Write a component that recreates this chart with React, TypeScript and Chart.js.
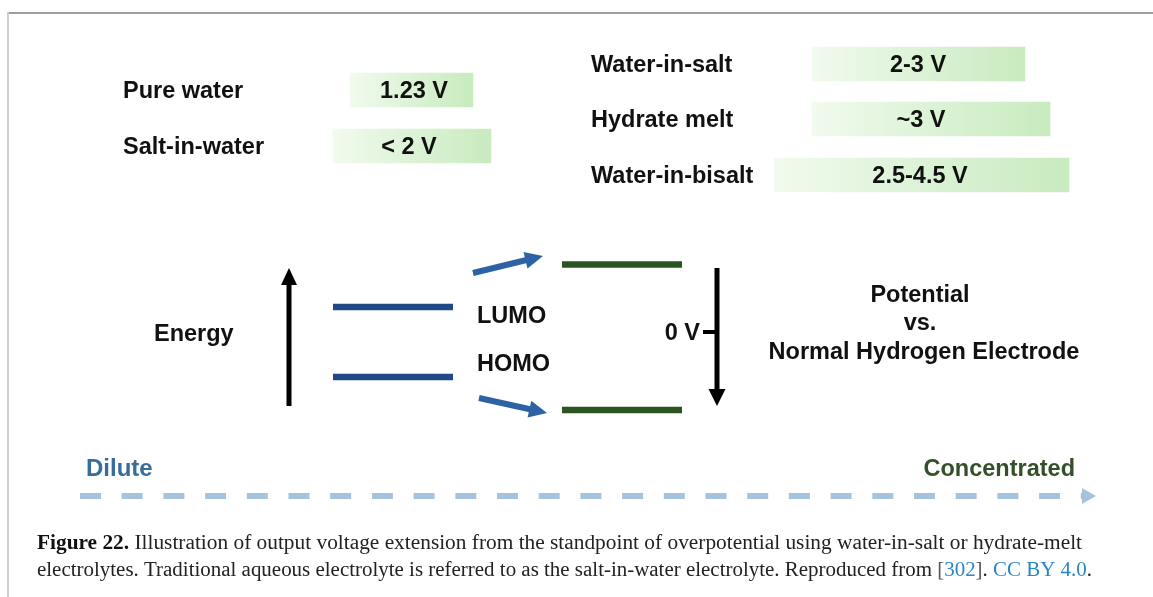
import React, { useEffect, useRef } from 'react';
import { Chart, registerables } from 'chart.js';

Chart.register(...registerables);

const W = 1153;
const H = 597;

// ---------- data ----------
const leftSystems = ['Pure water', 'Salt-in-water'];
const leftWindows = ['1.23 V', '< 2 V'];
const leftBoxStart = [350, 333];
const leftBoxEnd = [473, 491];
const leftRows = [90, 146];

const rightSystems = ['Water-in-salt', 'Hydrate melt', 'Water-in-bisalt'];
const rightWindows = ['2-3 V', '~3 V', '2.5-4.5 V'];
const rightBoxStart = [812, 812, 774];
const rightBoxEnd = [1025, 1050, 1069];
const rightRows = [64, 119, 175];

const orbitalNames = ['LUMO', 'HOMO'];
const diluteLevelX = [333, 453];
const diluteLevelY = [307, 377];
const concLevelX = [562, 682];
const concLevelY = [264.5, 410];

const shiftArrowFrom = [[473, 273], [479, 398]];
const shiftArrowTo = [[543, 256], [547, 413]];

const energyArrow = [[289, 406], [289, 268]];
const potentialArrow = [[717, 268], [717, 406]];
const zeroTick = [[703, 332], [717, 332]];
const concAxis = [[80, 496], [1096, 496]];

// ---------- layout (text placement) ----------
const FONT = '"Liberation Sans", Arial, sans-serif';
const leftLabelX = 123;
const rightLabelX = 591;
const boxTextX = [414, 409, 918, 921, 920];

function App() {
  const ref = useRef<HTMLCanvasElement | null>(null);

  useEffect(() => {
    const canvas = ref.current;
    if (!canvas) return;

    const boxes = [
      ...leftRows.map((y, i) => ({ x: [leftBoxStart[i], leftBoxEnd[i]], y })),
      ...rightRows.map((y, i) => ({ x: [rightBoxStart[i], rightBoxEnd[i]], y })),
    ];
    const boxTexts = [...leftWindows, ...rightWindows];

    const seg = (a: number[], b: number[]) => [
      { x: a[0], y: a[1] },
      { x: b[0], y: b[1] },
    ];

    const lineDs = (data: any[], color: string, width: number, extra: any = {}) => ({
      type: 'line',
      data,
      borderColor: color,
      backgroundColor: color,
      borderWidth: width,
      pointRadius: 0,
      borderCapStyle: 'butt',
      fill: false,
      tension: 0,
      clip: false,
      ...extra,
    });

    const datasets: any[] = [
      {
        type: 'bar',
        indexAxis: 'y',
        data: boxes,
        barThickness: 34,
        borderWidth: 0,
        backgroundColor: (c: any) => {
          const chart = c.chart;
          const raw = c.raw;
          if (!chart.chartArea || !raw) return '#dff3d9';
          const xs = chart.scales.x;
          const x0 = xs.getPixelForValue(raw.x[0]);
          const x1 = xs.getPixelForValue(raw.x[1]);
          const g = chart.ctx.createLinearGradient(x0, 0, x1, 0);
          g.addColorStop(0, '#f1faee');
          g.addColorStop(1, '#c8ebbf');
          return g;
        },
      },
      ...diluteLevelY.map((y) =>
        lineDs(seg([diluteLevelX[0], y], [diluteLevelX[1], y]), '#1f4a86', 6.5)
      ),
      ...concLevelY.map((y) =>
        lineDs(seg([concLevelX[0], y], [concLevelX[1], y]), '#2b5520', 6.5)
      ),
      ...shiftArrowFrom.map((f, i) =>
        lineDs(seg(f, shiftArrowTo[i]), '#2d62a5', 6, { arrowHead: [18, 17] })
      ),
      lineDs(seg(energyArrow[0], energyArrow[1]), '#000000', 5, { arrowHead: [17, 16] }),
      lineDs(seg(potentialArrow[0], potentialArrow[1]), '#000000', 5, { arrowHead: [17, 17] }),
      lineDs(seg(zeroTick[0], zeroTick[1]), '#000000', 4),
      lineDs(seg(concAxis[0], concAxis[1]), '#a6c3de', 6, {
        arrowHead: [14, 16],
        borderDash: [21, 20.7],
      }),
    ];

    const headGeom = (chart: any, index: number) => {
      const ds: any = chart.data.datasets[index];
      if (!ds.arrowHead) return null;
      const pts = chart.getDatasetMeta(index).data;
      if (!pts || pts.length < 2) return null;
      const p1 = pts[pts.length - 1];
      const p0 = pts[pts.length - 2];
      const dx = p1.x - p0.x;
      const dy = p1.y - p0.y;
      const len = Math.hypot(dx, dy) || 1;
      const ux = dx / len;
      const uy = dy / len;
      const px = -uy;
      const py = ux;
      const [L, Wd] = ds.arrowHead;
      return { tx: p1.x, ty: p1.y, bx: p1.x - ux * L, by: p1.y - uy * L, ux, uy, px, py, hw: Wd / 2, sw: ds.borderWidth, color: ds.borderColor };
    };

    const arrowPlugin = {
      id: 'arrowHeads',
      beforeDatasetDraw(chart: any, args: any) {
        const g = headGeom(chart, args.index);
        if (!g) return;
        const ctx = chart.ctx;
        ctx.save();
        ctx.beginPath();
        ctx.rect(0, 0, chart.width, chart.height);
        const s = g.sw;
        const bx = g.bx + g.ux * 1;
        const by = g.by + g.uy * 1;
        const ex = g.tx + g.ux * 4;
        const ey = g.ty + g.uy * 4;
        ctx.moveTo(bx + g.px * s, by + g.py * s);
        ctx.lineTo(ex + g.px * s, ey + g.py * s);
        ctx.lineTo(ex - g.px * s, ey - g.py * s);
        ctx.lineTo(bx - g.px * s, by - g.py * s);
        ctx.closePath();
        ctx.clip('evenodd');
      },
      afterDatasetDraw(chart: any, args: any) {
        const g = headGeom(chart, args.index);
        if (!g) return;
        const ctx = chart.ctx;
        ctx.restore();
        ctx.save();
        ctx.fillStyle = g.color;
        ctx.beginPath();
        ctx.moveTo(g.tx, g.ty);
        ctx.lineTo(g.bx + g.px * g.hw, g.by + g.py * g.hw);
        ctx.lineTo(g.bx - g.px * g.hw, g.by - g.py * g.hw);
        ctx.closePath();
        ctx.fill();
        ctx.restore();
      },
    };

    const decorPlugin = {
      id: 'decor',
      beforeDraw(chart: any) {
        const ctx = chart.ctx;
        ctx.save();
        ctx.fillStyle = '#ffffff';
        ctx.fillRect(0, 0, chart.width, chart.height);
        ctx.fillStyle = '#9e9e9e';
        ctx.fillRect(8, 12, chart.width - 8, 2);
        ctx.fillStyle = '#cfcfcf';
        ctx.fillRect(7, 12, 2, chart.height - 12);
        ctx.restore();
      },
      afterDraw(chart: any) {
        const ctx = chart.ctx;
        const xs = chart.scales.x;
        const ys = chart.scales.y;
        ctx.save();
        const bold = (sz: number) => `bold ${sz}px ${FONT}`;
        const text = (t: string, x: number, yCenter: number, align: CanvasTextAlign = 'left', color = '#111111', sz = 23.5) => {
          ctx.font = bold(sz);
          ctx.fillStyle = color;
          ctx.textAlign = align;
          ctx.textBaseline = 'alphabetic';
          ctx.fillText(t, x, yCenter + sz * 0.716 / 2);
        };
        leftSystems.forEach((s, i) => text(s, leftLabelX, ys.getPixelForValue(leftRows[i])));
        rightSystems.forEach((s, i) => text(s, rightLabelX, ys.getPixelForValue(rightRows[i])));
        const meta = chart.getDatasetMeta(0);
        meta.data.forEach((el: any, i: number) => {
          text(boxTexts[i], xs.getPixelForValue(boxTextX[i]), el.y, 'center');
        });
        text('Energy', 154, 333);
        text(orbitalNames[0], 477, 315);
        text(orbitalNames[1], 477, 363);
        text('0 V', 700, 332, 'right');
        text('Potential', 920, 294, 'center');
        text('vs.', 920, 322, 'center');
        text('Normal Hydrogen Electrode', 924, 351, 'center');
        text('Dilute', 86, 467, 'left', '#3a6c9a', 24);
        text('Concentrated', 1075, 468, 'right', '#33502a', 23.5);

        // caption
        const serif = '"Liberation Serif", "Times New Roman", serif';
        const sz = 20;
        const parts1: [string, string, boolean][] = [
          ['Figure 22.', '#111111', true],
          [' Illustration of output voltage extension from the standpoint of overpotential using water-in-salt or hydrate-melt', '#222222', false],
        ];
        const parts2: [string, string, boolean][] = [
          ['electrolytes. Traditional aqueous electrolyte is referred to as the salt-in-water electrolyte. Reproduced from ', '#222222', false],
          ['[', '#555555', false],
          ['302', '#2a87c5', false],
          [']', '#555555', false],
          ['. ', '#222222', false],
          ['CC BY 4.0', '#2a87c5', false],
          ['.', '#222222', false],
        ];
        const fontOf = (b: boolean) => `${b ? 'bold ' : ''}${sz}px ${serif}`;
        const drawParts = (parts: [string, string, boolean][], y: number, target: number) => {
          ctx.textAlign = 'left';
          ctx.textBaseline = 'alphabetic';
          let total = 0;
          parts.forEach(([t, , b]) => {
            ctx.font = fontOf(b);
            total += ctx.measureText(t).width;
          });
          const k = target / total;
          ctx.save();
          ctx.translate(37, y);
          ctx.scale(k, 1);
          let x = 0;
          parts.forEach(([t, c, b]) => {
            ctx.font = fontOf(b);
            ctx.fillStyle = c;
            ctx.fillText(t, x, 0);
            x += ctx.measureText(t).width;
          });
          ctx.restore();
        };
        drawParts(parts1, 549, 1045);
        drawParts(parts2, 576, 1055);
        ctx.restore();
      },
    };

    const chart = new Chart(canvas, {
      type: 'bar',
      data: { datasets } as any,
      options: {
        responsive: false,
        animation: false,
        devicePixelRatio: 1,
        layout: { padding: 0 },
        events: [],
        scales: {
          x: { type: 'linear', min: 0, max: W, display: false, offset: false, grace: 0, bounds: 'data' },
          y: { type: 'linear', min: 0, max: H, reverse: true, display: false, offset: false, grace: 0, bounds: 'data' },
        },
        plugins: { legend: { display: false }, tooltip: { enabled: false } },
      } as any,
      plugins: [arrowPlugin, decorPlugin] as any,
    });

    return () => chart.destroy();
  }, []);

  return (
    <div style={{ position: 'fixed', left: 0, top: 0, width: W, height: H, background: '#fff' }}>
      <canvas ref={ref} width={W} height={H} style={{ display: 'block', width: W, height: H }} />
    </div>
  );
}

export default App;
